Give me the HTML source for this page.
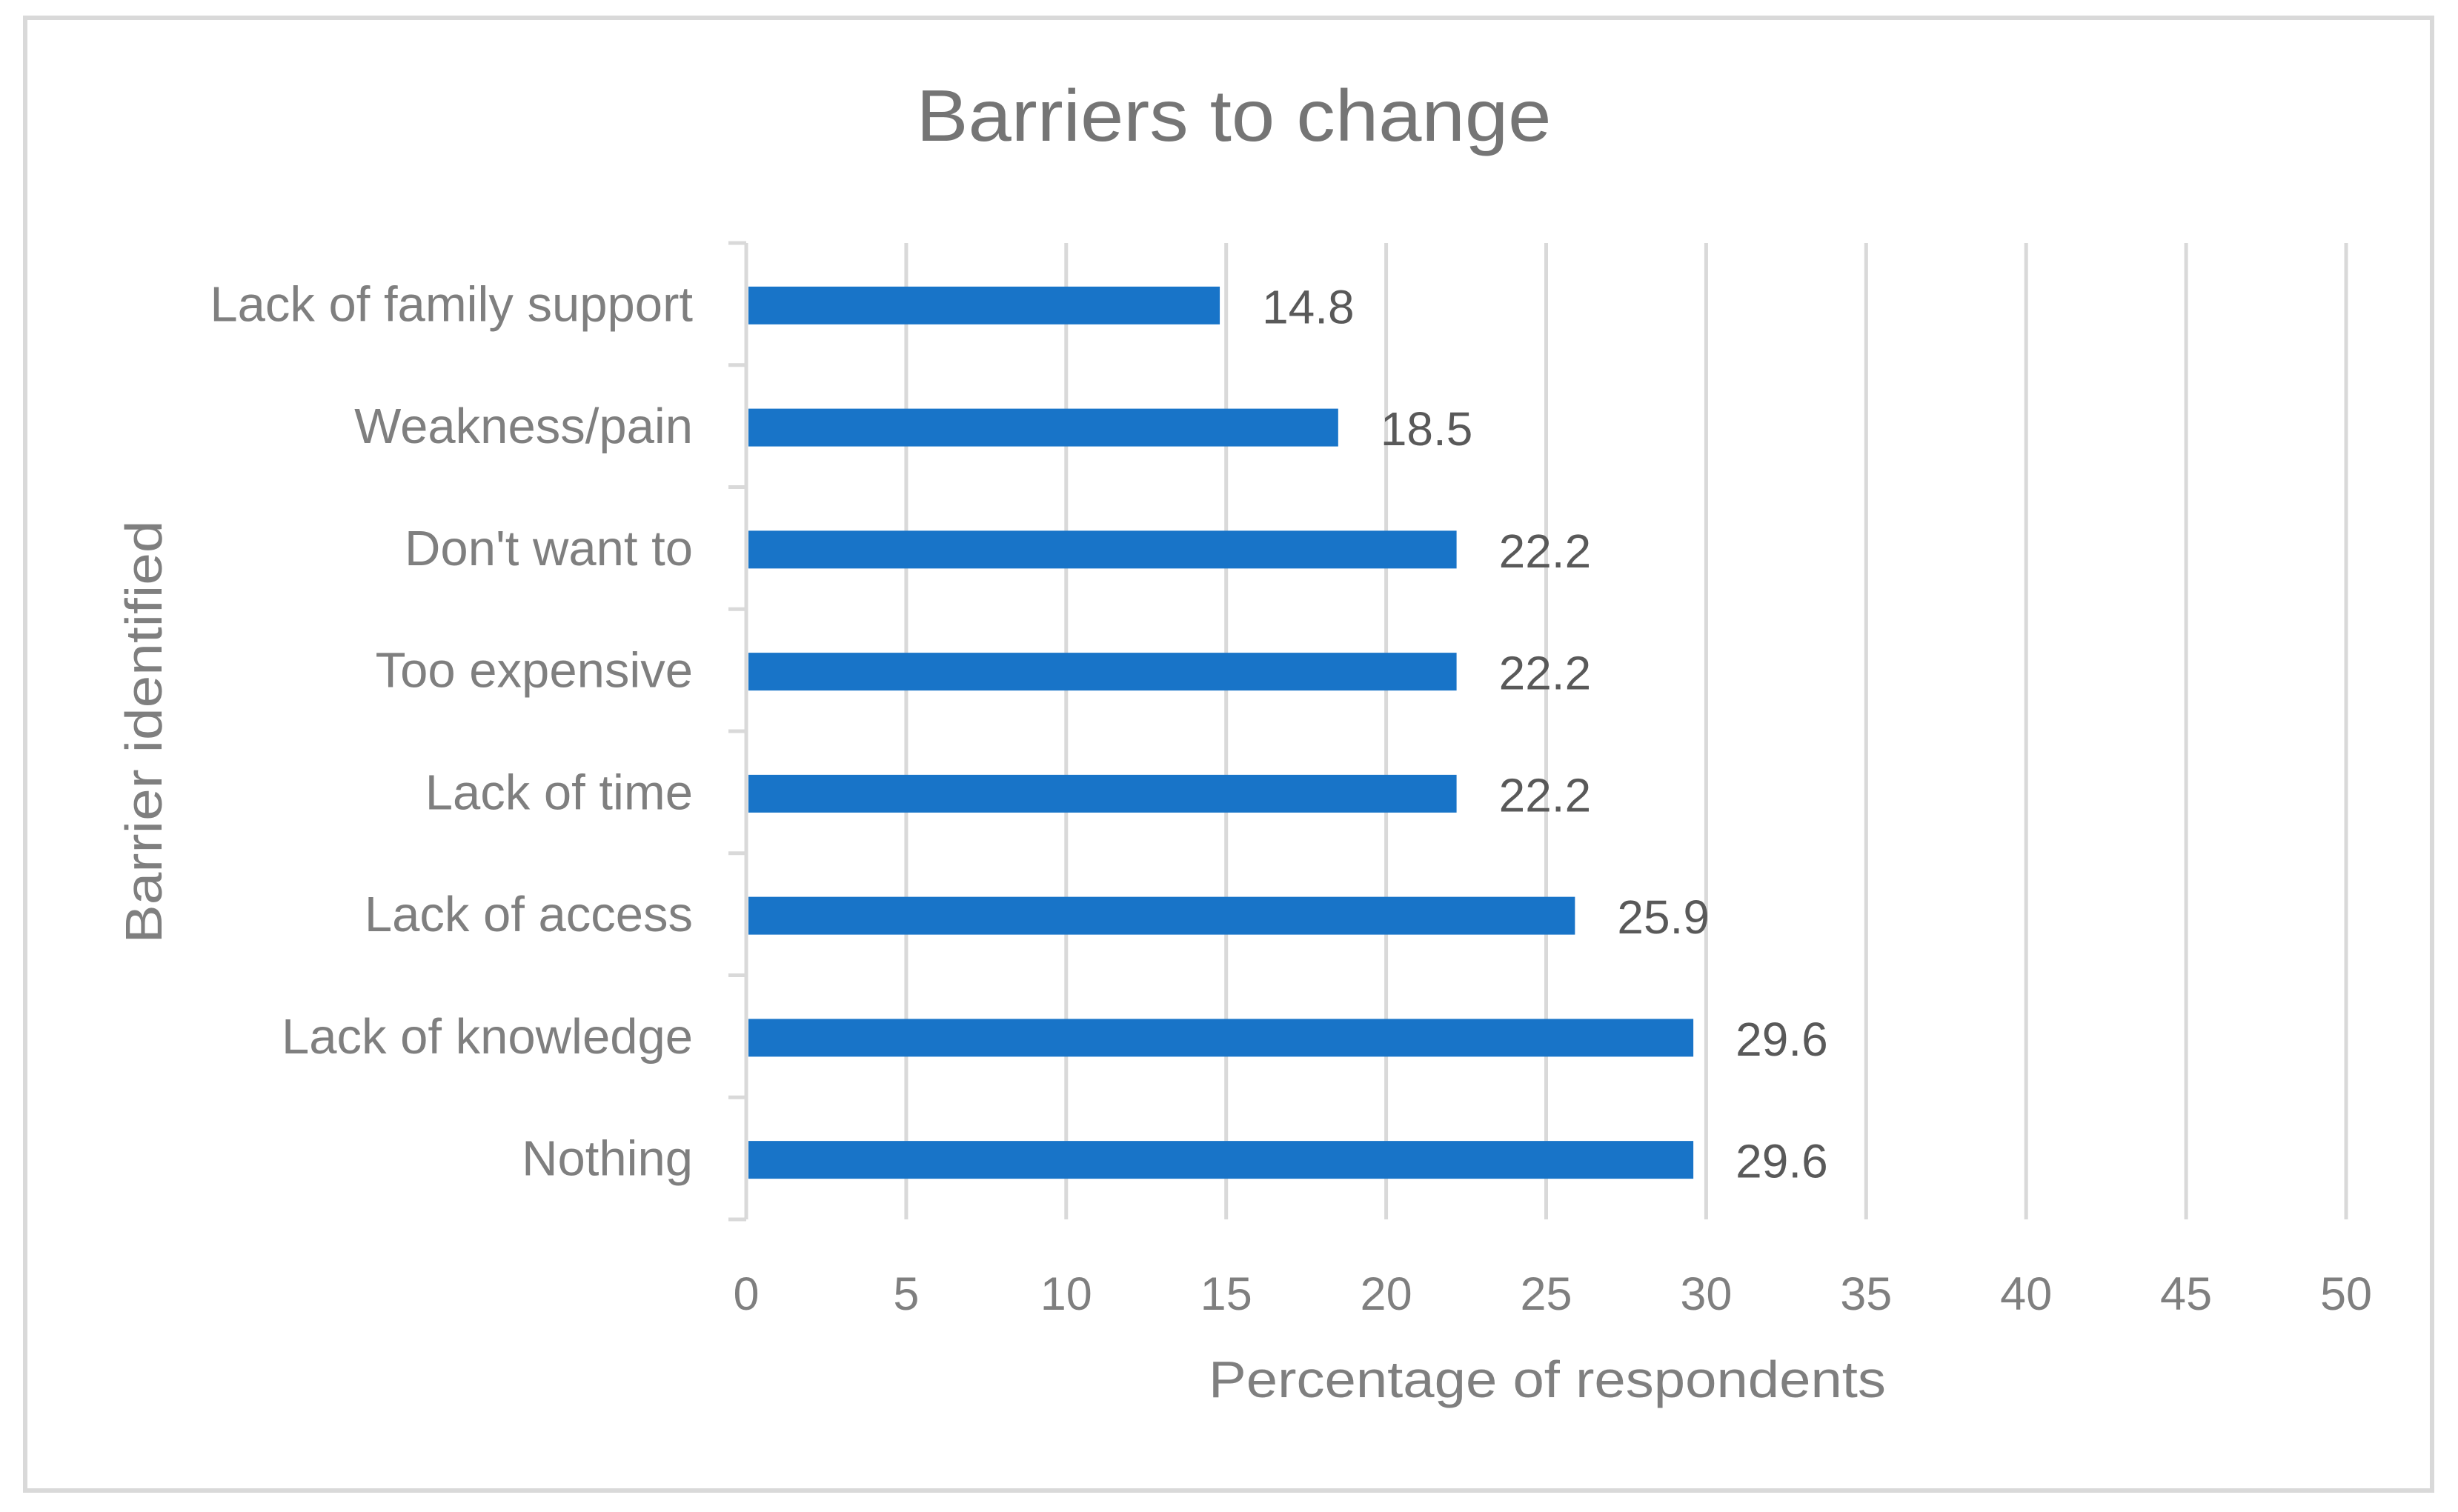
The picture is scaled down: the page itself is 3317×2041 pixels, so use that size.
<!DOCTYPE html>
<html><head><meta charset="utf-8"><style>html,body{margin:0;padding:0;background:#fff}svg{display:block}</style></head>
<body>
<svg id="chart" width="3317" height="2041" viewBox="0 0 3317 2041" xmlns="http://www.w3.org/2000/svg" font-family="Liberation Sans, sans-serif">
<rect x="34" y="24" width="3248" height="1988" fill="#fff" stroke="#d9d9d9" stroke-width="6"/>
<text x="1665" y="190" text-anchor="middle" font-size="98" fill="#757575" textLength="857" lengthAdjust="spacingAndGlyphs">Barriers to change</text>
<g id="grid"></g><g id="bars"></g><g id="labels"></g>
<text x="2088" y="1886" text-anchor="middle" font-size="70" fill="#7f7f7f" textLength="914" lengthAdjust="spacingAndGlyphs">Percentage of respondents</text>
<text transform="translate(218,988) rotate(-90)" text-anchor="middle" font-size="70" fill="#7f7f7f" textLength="571" lengthAdjust="spacingAndGlyphs">Barrier identified</text>
</svg>
<script>
const categories = ["Lack of family support","Weakness/pain","Don't want to","Too expensive","Lack of time","Lack of access","Lack of knowledge","Nothing"];
const values = [14.8, 18.5, 22.2, 22.2, 22.2, 25.9, 29.6, 29.6];
const xTicks = [0,5,10,15,20,25,30,35,40,45,50];
const NS="http://www.w3.org/2000/svg";
const x0=1007, x1=3166, xMax=50, yTop=328, yBot=1646;
const band=(yBot-yTop)/categories.length, barH=51;
const xs=v=>x0+(v/xMax)*(x1-x0);
function mk(tag,attrs,parent,txt){const e=document.createElementNS(NS,tag);for(const k in attrs)e.setAttribute(k,attrs[k]);if(txt!==undefined)e.textContent=txt;document.getElementById(parent).appendChild(e);return e;}
xTicks.forEach((t,i)=>{
  const g=mk('line',{x1:xs(t),x2:xs(t),y1:yTop,y2:yBot,stroke:'#d9d9d9','stroke-width':5},'grid');
  
  
  const l=mk('text',{x:xs(t),y:1768,'text-anchor':'middle','font-size':63,fill:'#7f7f7f'},'labels',String(t));
  
  
});
for(let i=0;i<=categories.length;i++){
  const y=yTop+i*band;
  const tk=mk('line',{x1:983,x2:x0,y1:y,y2:y,stroke:'#d9d9d9','stroke-width':5},'grid');
  
  
}
const ax=mk('line',{x1:x0,x2:x0,y1:yTop,y2:yBot,stroke:'#d9d9d9','stroke-width':5},'grid');


categories.forEach((c,i)=>{
  const cy=yTop+band*(i+0.5);
  const b=mk('rect',{x:x0+3,y:cy-barH/2+2,width:xs(values[i])-x0-3,height:barH,fill:'#1874c8'},'bars');
  
  
  const v=mk('text',{x:xs(values[i])+57,y:cy+26,'font-size':64,fill:'#595959'},'labels',values[i].toFixed(1));
  
  
  const l=mk('text',{x:935,y:cy+23,'text-anchor':'end','font-size':67,fill:'#7f7f7f'},'labels',c);
  
  
});
</script>
</body></html>
